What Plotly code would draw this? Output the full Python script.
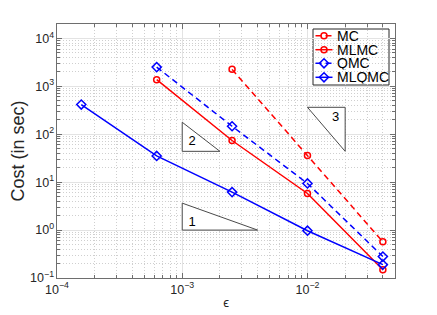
import math
import plotly.graph_objects as go

# ---------------- data ----------------
mc_eps = [2.5e-3, 1.0e-2, 4.0e-2]
mc_cost = [2260, 36, 0.57]

mlmc_eps = [6.25e-4, 2.5e-3, 1.0e-2, 4.0e-2]
mlmc_cost = [1380, 74, 5.8, 0.148]

qmc_eps = [6.25e-4, 2.5e-3, 1.0e-2, 4.0e-2]
qmc_cost = [2520, 147, 9.4, 0.28]

mlqmc_eps = [1.5625e-4, 6.25e-4, 2.5e-3, 1.0e-2, 4.0e-2]
mlqmc_cost = [416, 35.3, 6.2, 0.97, 0.19]

series_names = ["MC", "MLMC", "QMC", "MLQMC"]

# slope triangles (rate 1, 2, 3)
tri1_x = [1e-3, 1e-3, 4e-3, 1e-3]
tri1_y = [1.0, 3.65, 1.0, 1.0]
tri2_x = [1e-3, 1e-3, 2e-3, 1e-3]
tri2_y = [44, 178, 44, 44]
tri3_x = [1e-2, 2e-2, 2e-2, 1e-2]
tri3_y = [365, 365, 44, 365]
tri_labels = ["1", "2", "3"]
tri_label_x = [1.2e-3, 1.2e-3, 1.68e-2]
tri_label_y = [1.45, 71, 226]

# ---------------- styling ----------------
RED = "rgb(255,0,0)"
BLUE = "rgb(0,0,255)"
DASH = "6px,4px"
FONT = "Liberation Sans, Arial, Helvetica, sans-serif"
AXC = "#6e6e6e"

# plot area in screen pixels (page body adds an 8px offset)
OFF = 8
PL, PR, PT, PB = 57, 395, 24, 278
W, H = 437, 315

fig = go.Figure()

# slope triangles
for tx, ty in [(tri1_x, tri1_y), (tri2_x, tri2_y), (tri3_x, tri3_y)]:
    fig.add_trace(go.Scatter(x=tx, y=ty, mode="lines", fill="toself",
                             fillcolor="white", line=dict(color="#4a4a4a", width=1),
                             showlegend=False, hoverinfo="skip"))
fig.add_trace(go.Scatter(x=tri_label_x, y=tri_label_y, mode="text", text=tri_labels,
                         textfont=dict(family=FONT, size=13, color="black"),
                         showlegend=False, hoverinfo="skip"))

styles = {
    "MC": dict(color=RED, dash=DASH, symbol="circle-open", size=6),
    "MLMC": dict(color=RED, dash="solid", symbol="circle-open", size=6),
    "QMC": dict(color=BLUE, dash=DASH, symbol="diamond-open", size=7),
    "MLQMC": dict(color=BLUE, dash="solid", symbol="diamond-open", size=7),
}
series = {
    "MC": (mc_eps, mc_cost),
    "MLMC": (mlmc_eps, mlmc_cost),
    "QMC": (qmc_eps, qmc_cost),
    "MLQMC": (mlqmc_eps, mlqmc_cost),
}
for name in series_names:
    xs, ys = series[name]
    st = styles[name]
    fig.add_trace(go.Scatter(
        x=xs, y=ys, mode="lines+markers", name=name, showlegend=False,
        line=dict(color=st["color"], width=1.5, dash=st["dash"]),
        marker=dict(symbol=st["symbol"], size=st["size"], color=st["color"],
                    line=dict(color=st["color"], width=1.5)),
    ))

# ---------------- manual legend on an overlay pixel-like axis ----------------
L_X0, L_X1, L_Y0, L_Y1 = 313, 389, 29, 85
row_y = [35.7, 49.7, 63.3, 77.3]
for name, yc in zip(series_names, row_y):
    st = styles[name]
    fig.add_trace(go.Scatter(x=[315.5, 332.5], y=[yc, yc], mode="lines",
                             xaxis="x2", yaxis="y2", showlegend=False, hoverinfo="skip",
                             line=dict(color=st["color"], width=1.5, dash=st["dash"])))
    fig.add_trace(go.Scatter(x=[324], y=[yc], mode="markers",
                             xaxis="x2", yaxis="y2", showlegend=False, hoverinfo="skip",
                             marker=dict(symbol=st["symbol"], size=st["size"], color=st["color"],
                                         line=dict(color=st["color"], width=1.5))))
    fig.add_annotation(x=335.5, y=yc, xref="x2", yref="y2", text=name, showarrow=False,
                       xanchor="left", yanchor="middle", borderpad=0, height=13.5,
                       valign="middle",
                       font=dict(family=FONT, size=14, color="black"))


def px2paper_x(v):
    return (v - PL) / (PR - PL)


def px2paper_y(v):
    return (PB - v) / (PB - PT)


fig.add_shape(type="rect", xref="paper", yref="paper",
              x0=px2paper_x(L_X0), x1=px2paper_x(L_X1),
              y0=px2paper_y(L_Y1), y1=px2paper_y(L_Y0),
              line=dict(color="#262626", width=1), fillcolor="white", layer="below")

common = dict(
    type="log", showline=True, linecolor=AXC, linewidth=1, mirror="allticks",
    ticks="inside", ticklen=5, tickcolor=AXC, tickwidth=1,
    dtick=1, exponentformat="power", showexponent="all",
    labelalias={"1": "10<sup>0</sup>", "10": "10<sup>1</sup>"},
    showgrid=True, gridcolor="#e3e3e3", gridwidth=1, zeroline=False,
    tickfont=dict(family=FONT, size=10, color="#262626"),
    minor=dict(ticks="inside", ticklen=3, tickcolor=AXC, dtick="D1",
               showgrid=True, gridcolor="#cfcfcf", griddash="1px,2px", gridwidth=1),
)

fig.update_layout(
    width=W, height=H,
    margin=dict(l=PL - OFF, r=W - PR + OFF, t=PT - OFF, b=H - PB + OFF, autoexpand=False),
    paper_bgcolor="white", plot_bgcolor="rgba(0,0,0,0)",
    font=dict(family=FONT, color="#262626"),
    xaxis=dict(range=[-4, math.log10(0.05)],
               title=dict(text="ϵ", font=dict(family=FONT, size=13, color="#262626"), standoff=2),
               **common),
    yaxis=dict(range=[-1, math.log10(2e4)],
               title=dict(text="Cost (in sec)", font=dict(family=FONT, size=18, color="#262626"),
                          standoff=5),
               **common),
    xaxis2=dict(overlaying="x", range=[PL, PR], visible=False, fixedrange=True),
    yaxis2=dict(overlaying="y", range=[PB, PT], visible=False, fixedrange=True),
)

fig.write_html("out.html")
